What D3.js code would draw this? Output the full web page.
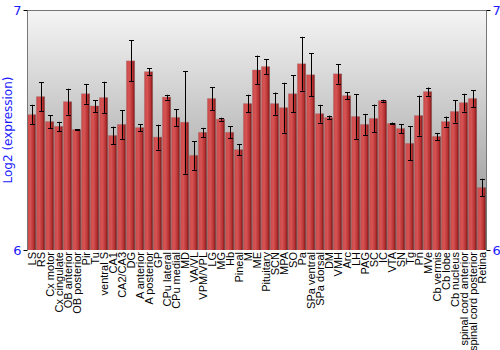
<!DOCTYPE html>
<html>
<head>
<meta charset="utf-8">
<script src="https://cdn.jsdelivr.net/npm/d3@7"></script>
<style>
  body { margin: 0; background: #fff; }
  svg { font-family: "Liberation Sans", Arial, sans-serif; }
</style>
</head>
<body>
<div id="chart"></div>
<script>
var regions = ["LS", "RS", "Cx motor", "Cx cingulate", "OB anterior", "OB posterior", "Pir", "Tu",
  "ventral S", "CA1", "CA2/CA3", "DG", "A anterior", "A posterior", "GP", "CPu lateral", "CPu medial",
  "MD", "VA/VL", "VPM/VPL", "LG", "MG", "Hb", "Pineal", "M", "ME", "Pituitary", "SCN", "MPA", "SO",
  "Pa", "SPa ventral", "SPa dorsal", "DM", "VMH", "Arc", "LH", "PAG", "SC", "IC", "VTA", "SN", "Tg",
  "Pn", "MVe", "Cb vermis", "Cb lobe", "Cb nucleus", "spinal cord anterior", "spinal cord posterior", "Retina"];

var expression = [6.564, 6.639, 6.535, 6.515, 6.618, 6.502, 6.651, 6.600,
  6.635, 6.477, 6.523, 6.788, 6.510, 6.743, 6.470, 6.637, 6.552,
  6.532, 6.394, 6.490, 6.631, 6.545, 6.490, 6.418, 6.610, 6.750, 6.764, 6.610, 6.593, 6.651,
  6.776, 6.730, 6.568, 6.552, 6.734, 6.643, 6.556, 6.523, 6.548, 6.622, 6.527, 6.506, 6.444,
  6.560, 6.660, 6.473, 6.535, 6.577, 6.614, 6.631, 6.260];

var stderr = [0.041, 0.060, 0.027, 0.019, 0.054, 0.002, 0.041, 0.025,
  0.066, 0.037, 0.060, 0.085, 0.015, 0.015, 0.052, 0.010, 0.035,
  0.214, 0.060, 0.019, 0.048, 0.006, 0.025, 0.023, 0.037, 0.060, 0.031, 0.046, 0.104, 0.077,
  0.112, 0.089, 0.037, 0.008, 0.041, 0.015, 0.093, 0.044, 0.058, 0.004, 0.004, 0.019, 0.071,
  0.083, 0.017, 0.015, 0.021, 0.046, 0.037, 0.035, 0.037];

var yTicks = [6, 7];

var width = 500, height = 350;
var plotLeft = 27, plotRight = 486, plotTop = 10, plotBottom = 250;

var svg = d3.select("#chart").append("svg")
  .attr("width", width)
  .attr("height", height);

var defs = svg.append("defs");

var bg = defs.append("linearGradient")
  .attr("id", "bg").attr("x1", 0).attr("y1", 0).attr("x2", 0).attr("y2", 1);
bg.append("stop").attr("offset", "0%").attr("stop-color", "#f5f5f5");
bg.append("stop").attr("offset", "100%").attr("stop-color", "#8c8c8c");

var barFill = defs.append("linearGradient")
  .attr("id", "barFill").attr("x1", 0).attr("y1", 0).attr("x2", 1).attr("y2", 0);
barFill.append("stop").attr("offset", "0%").attr("stop-color", "#c94848");
barFill.append("stop").attr("offset", "35%").attr("stop-color", "#d65454");
barFill.append("stop").attr("offset", "75%").attr("stop-color", "#b83232");
barFill.append("stop").attr("offset", "100%").attr("stop-color", "#7a1515");

var x = d3.scaleBand()
  .domain(regions)
  .range([plotLeft, plotRight])
  .paddingInner(0.1)
  .paddingOuter(0.05);

var y = d3.scaleLinear()
  .domain([6, 7])
  .range([plotBottom, plotTop]);

// plot background
svg.append("rect")
  .attr("x", plotLeft).attr("y", plotTop)
  .attr("width", plotRight - plotLeft).attr("height", plotBottom - plotTop)
  .attr("fill", "url(#bg)");

var bars = svg.append("g").selectAll("g")
  .data(regions)
  .enter()
  .append("g");

// soft shadow around bars
bars.append("rect")
  .attr("x", function(d) { return x(d) - 0.5; })
  .attr("y", function(d, i) { return y(expression[i]) - 0.5; })
  .attr("width", x.bandwidth() + 1)
  .attr("height", function(d, i) { return plotBottom - y(expression[i]) + 0.5; })
  .attr("fill", "rgba(90,90,90,0.25)");

bars.append("rect")
  .attr("x", function(d) { return x(d); })
  .attr("y", function(d, i) { return y(expression[i]); })
  .attr("width", x.bandwidth())
  .attr("height", function(d, i) { return plotBottom - y(expression[i]); })
  .attr("fill", "url(#barFill)");

// error bars
var errs = svg.append("g").selectAll("g")
  .data(regions)
  .enter()
  .append("g")
  .attr("stroke", "#000")
  .attr("stroke-width", 1);

function cx(d) { return Math.round(x(d) + x.bandwidth() / 2) + 0.5; }

errs.append("line")
  .attr("x1", cx).attr("x2", cx)
  .attr("y1", function(d, i) { return y(expression[i] + stderr[i]); })
  .attr("y2", function(d, i) { return y(expression[i] - stderr[i]); });
errs.append("line")
  .attr("x1", function(d) { return cx(d) - 2.5; })
  .attr("x2", function(d) { return cx(d) + 2.5; })
  .attr("y1", function(d, i) { return Math.round(y(expression[i] + stderr[i])) + 0.5; })
  .attr("y2", function(d, i) { return Math.round(y(expression[i] + stderr[i])) + 0.5; });
errs.append("line")
  .attr("x1", function(d) { return cx(d) - 2.5; })
  .attr("x2", function(d) { return cx(d) + 2.5; })
  .attr("y1", function(d, i) { return Math.round(y(expression[i] - stderr[i])) + 0.5; })
  .attr("y2", function(d, i) { return Math.round(y(expression[i] - stderr[i])) + 0.5; });

// frame
svg.append("path")
  .attr("d", "M" + (plotLeft + 0.5) + "," + plotBottom + "V" + (plotTop + 0.5) + "H" + (plotRight + 0.5) + "V" + plotBottom)
  .attr("fill", "none")
  .attr("stroke", "#777")
  .attr("stroke-width", 1);

// y axes
var axL = svg.append("g")
  .attr("transform", "translate(" + (plotLeft + 0.5) + ",0)")
  .call(d3.axisLeft(y).tickValues(yTicks).tickSize(4).tickPadding(2).tickFormat(d3.format("d")));
var axR = svg.append("g")
  .attr("transform", "translate(" + (plotRight + 0.5) + ",0)")
  .call(d3.axisRight(y).tickValues(yTicks).tickSize(4).tickPadding(2).tickFormat(d3.format("d")));

[axL, axR].forEach(function(ax) {
  ax.select(".domain").remove();
  ax.selectAll(".tick line").attr("stroke", "#000");
  ax.selectAll(".tick text")
    .attr("fill", "#1a1aff")
    .style("font-size", "13px")
    .style("font-family", "\"DejaVu Sans\", sans-serif");
});

// y label
svg.append("text")
  .attr("transform", "translate(12," + ((plotTop + plotBottom) / 2) + ") rotate(-90)")
  .attr("text-anchor", "middle")
  .attr("fill", "#1a1aff")
  .style("font-size", "12px")
  .style("font-family", "\"DejaVu Sans\", sans-serif")
  .text("Log2 (expression)");

// category labels
svg.append("g").selectAll("text")
  .data(regions)
  .enter()
  .append("text")
  .attr("transform", function(d) {
    return "translate(" + (x(d) + x.bandwidth() / 2 + 4) + "," + (plotBottom + 2) + ") rotate(-90)";
  })
  .attr("text-anchor", "end")
  .attr("fill", "#000")
  .style("font-size", "11px")
  .text(function(d) { return d; });
</script>
</body>
</html>
